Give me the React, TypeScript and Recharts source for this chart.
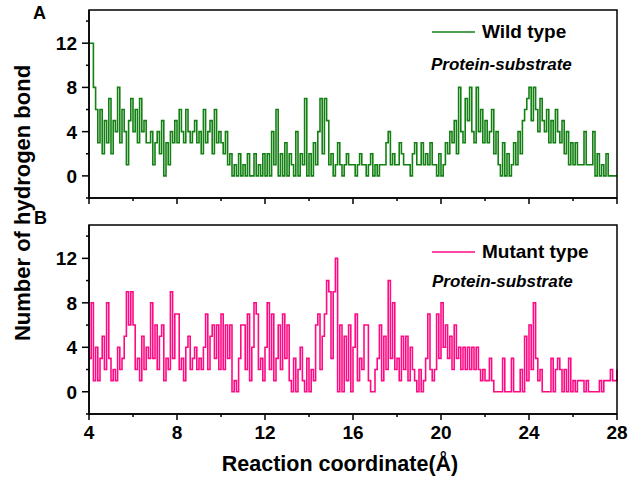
import React from 'react';
import { LineChart, Line, XAxis, YAxis } from 'recharts';

// sampling of the reaction coordinate (Å)
const START = 4;
const STEP = 0.1;

// number of H-bonds, protein-substrate, one row per Å (4.0 ... 27.9, then 28.0)
const wildType = [
  12, 12, 8, 6, 3, 6, 2, 5, 3, 7,
  2, 5, 4, 8, 3, 6, 4, 1, 5, 7,
  4, 6, 3, 7, 4, 5, 3, 3, 4, 1,
  3, 4, 2, 5, 0, 3, 1, 4, 3, 5,
  3, 6, 4, 3, 6, 4, 3, 4, 5, 3,
  4, 2, 6, 3, 4, 5, 2, 6, 3, 4,
  3, 2, 4, 1, 2, 0, 1, 0, 2, 0,
  1, 0, 2, 0, 0, 2, 0, 1, 0, 2,
  0, 2, 0, 4, 1, 6, 0, 2, 0, 3,
  0, 2, 1, 0, 4, 0, 2, 1, 7, 0,
  2, 0, 3, 1, 4, 7, 2, 7, 5, 1,
  2, 0, 1, 3, 1, 0, 1, 2, 1, 1,
  1, 0, 1, 2, 1, 1, 0, 1, 2, 0,
  1, 0, 1, 1, 1, 3, 4, 1, 2, 1,
  1, 3, 2, 1, 1, 1, 0, 2, 3, 1,
  1, 3, 1, 2, 1, 3, 1, 1, 0, 2,
  0, 1, 3, 2, 4, 3, 5, 2, 8, 4,
  3, 7, 5, 8, 4, 3, 8, 4, 6, 3,
  5, 3, 4, 6, 2, 4, 1, 0, 3, 0,
  2, 0, 1, 3, 1, 4, 2, 5, 6, 7,
  8, 5, 8, 6, 4, 7, 5, 4, 6, 3,
  5, 3, 6, 4, 3, 5, 2, 4, 1, 3,
  1, 3, 1, 1, 1, 4, 1, 1, 1, 4,
  0, 2, 0, 1, 0, 2, 0, 0, 0, 0,
  0,
];

const mutantType = [
  3, 8, 1, 4, 1, 3, 5, 2, 8, 3,
  1, 2, 1, 4, 2, 3, 5, 9, 6, 9,
  6, 2, 3, 1, 5, 2, 4, 3, 8, 3,
  6, 2, 5, 6, 1, 3, 2, 9, 3, 7,
  7, 2, 3, 1, 4, 5, 2, 3, 4, 2,
  3, 2, 4, 7, 2, 5, 6, 3, 6, 2,
  7, 2, 6, 3, 6, 0, 1, 0, 3, 6,
  6, 2, 7, 1, 4, 8, 7, 2, 3, 1,
  4, 8, 2, 7, 1, 3, 6, 2, 7, 3,
  6, 1, 0, 3, 0, 2, 4, 1, 0, 3,
  0, 2, 1, 6, 7, 2, 5, 7, 10, 9,
  3, 9, 12, 0, 6, 0, 5, 1, 6, 0,
  4, 7, 1, 3, 2, 6, 6, 1, 0, 0,
  2, 3, 6, 1, 5, 2, 10, 3, 8, 2,
  3, 1, 5, 2, 5, 1, 4, 2, 1, 0,
  2, 0, 1, 3, 7, 2, 1, 2, 7, 3,
  8, 4, 6, 3, 5, 2, 6, 3, 4, 2,
  4, 2, 4, 2, 4, 2, 4, 2, 1, 2,
  1, 1, 3, 1, 0, 0, 0, 0, 3, 0,
  0, 0, 3, 0, 0, 0, 2, 0, 5, 1,
  6, 2, 8, 3, 1, 2, 0, 0, 0, 0,
  3, 0, 2, 3, 2, 0, 2, 0, 3, 0,
  1, 0, 1, 1, 1, 0, 1, 0, 0, 0,
  0, 0, 1, 0, 1, 1, 1, 2, 1, 1,
  2,
];

const xTicks = [4, 6, 8, 10, 12, 14, 16, 18, 20, 22, 24, 26, 28];
const yTicks = [-2, 0, 2, 4, 6, 8, 10, 12, 14];

const wildData = wildType.map((v, i) => ({ x: START + i * STEP, v }));
const mutantData = mutantType.map((v, i) => ({ x: START + i * STEP, v }));

const FONT = '"Liberation Sans", Arial, sans-serif';
const GREEN = '#138013';
const PINK = '#ff0a85';

// plot box: left 89, right 617; A: 10-198, B: 225-414
const XTick = ({ x, y, payload, showLabel }: any) => {
  const major = payload.value % 4 === 0;
  return (
    <g>
      <line x1={x} x2={x} y1={y} y2={y + (major ? 6 : 3)} stroke="#000" strokeWidth={1.5} />
      {showLabel && major && (
        <text x={x} y={y + 25} textAnchor="middle" fontFamily={FONT} fontWeight="bold" fontSize={19} fill="#000">
          {payload.value}
        </text>
      )}
    </g>
  );
};

const YTick = ({ x, y, payload }: any) => {
  const major = payload.value % 4 === 0;
  return (
    <g>
      <line x1={x} x2={x - (major ? 7 : 3)} y1={y} y2={y} stroke="#000" strokeWidth={1.5} />
      {major && payload.value >= 0 && (
        <text x={x - 12} y={y + 7} textAnchor="end" fontFamily={FONT} fontWeight="bold" fontSize={19} fill="#000">
          {payload.value}
        </text>
      )}
    </g>
  );
};

const Panel = ({ data, color, height, bottom, showLabels }: any) => (
  <LineChart width={630} height={height} data={data} margin={{ top: 10, right: 13, bottom: 0, left: 0 }}>
    <XAxis
      dataKey="x"
      type="number"
      domain={[4, 28]}
      ticks={xTicks}
      interval={0}
      height={bottom}
      tickSize={0}
      tickMargin={0}
      tickLine={false}
      axisLine={{ stroke: '#000', strokeWidth: 1.5 }}
      tick={(p: any) => <XTick {...p} showLabel={showLabels} />}
    />
    <YAxis
      type="number"
      domain={[-2, 15]}
      ticks={yTicks}
      interval={0}
      width={89}
      tickSize={0}
      tickMargin={0}
      tickLine={false}
      axisLine={{ stroke: '#000', strokeWidth: 1.5 }}
      tick={(p: any) => <YTick {...p} />}
    />
    <Line type="stepAfter" dataKey="v" stroke={color} strokeWidth={1.6} dot={false} isAnimationActive={false} />
  </LineChart>
);

const App = () => {
  const textStyle = { fontFamily: FONT, fontWeight: 'bold' as const, fill: '#000' };
  return (
    <div style={{ position: 'absolute', left: 0, top: 0, width: 630, height: 485, background: '#fff' }}>
      <div style={{ position: 'absolute', left: 0, top: 0 }}>
        <Panel data={wildData} color={GREEN} height={210} bottom={12} showLabels={false} />
      </div>
      <div style={{ position: 'absolute', left: 0, top: 215 }}>
        <Panel data={mutantData} color={PINK} height={270} bottom={71} showLabels />
      </div>
      <svg width={630} height={485} style={{ position: 'absolute', left: 0, top: 0, pointerEvents: 'none' }}>
        {/* panel frames */}
        <rect x={89} y={10} width={528} height={188} fill="none" stroke="#000" strokeWidth={1.5} />
        <rect x={89} y={225} width={528} height={189} fill="none" stroke="#000" strokeWidth={1.5} />

        <text x={33} y={19} fontSize={18} {...textStyle}>A</text>
        <text x={34} y={224} fontSize={18} {...textStyle}>B</text>

        {/* legends */}
        <line x1={432} x2={475} y1={32} y2={32} stroke={GREEN} strokeWidth={1.5} />
        <text x={482} y={38} fontSize={19} {...textStyle}>Wild type</text>
        <text x={431} y={70} fontSize={17} fontStyle="italic" {...textStyle}>Protein-substrate</text>

        <line x1={432} x2={475} y1={252} y2={252} stroke={PINK} strokeWidth={1.5} />
        <text x={482} y={258} fontSize={19} {...textStyle}>Mutant type</text>
        <text x={432} y={287} fontSize={17} fontStyle="italic" {...textStyle}>Protein-substrate</text>

        {/* axis titles */}
        <text x={340} y={471} fontSize={21.5} textAnchor="middle" {...textStyle}>Reaction coordinate(Å)</text>
        <text
          x={0}
          y={0}
          fontSize={22}
          textAnchor="middle"
          transform="translate(30, 203) rotate(-90)"
          {...textStyle}
        >
          Number of hydrogen bond
        </text>
      </svg>
    </div>
  );
};

export default App;
